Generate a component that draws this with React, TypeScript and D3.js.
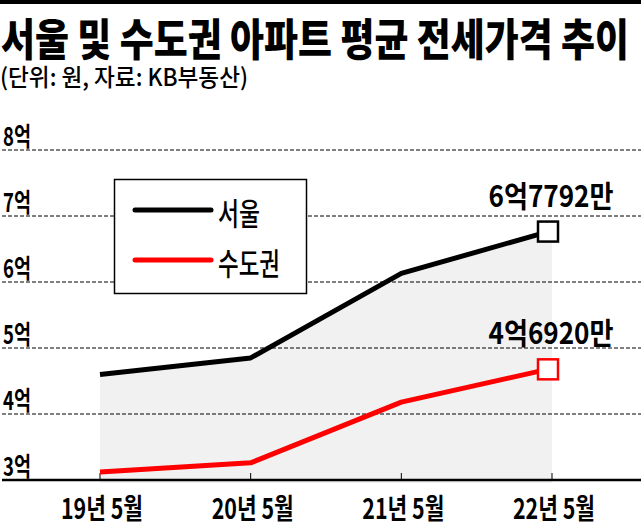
import React from 'react';
import * as d3 from 'd3';

const categories = ['19년 5월', '20년 5월', '21년 5월', '22년 5월'];
const seoul = [4.6, 4.85, 6.13, 6.7792];
const metro = [3.12, 3.26, 4.18, 4.692];
const yTicks = [3, 4, 5, 6, 7, 8];
const yTickLabels = ['3억', '4억', '5억', '6억', '7억', '8억'];
const seriesNames = ['서울', '수도권'];
const endLabels = ['6억7792만', '4억6920만'];
const title = '서울 및 수도권 아파트 평균 전세가격 추이';
const subtitle = '(단위: 원, 자료: KB부동산)';

const W = 641, H = 523;
const FONT = '"Noto Sans CJK KR", "Noto Sans", sans-serif';

export default function App() {
  const x = d3.scalePoint<string>().domain(categories).range([100, 552]);
  const y = d3.scaleLinear().domain([3, 8]).range([480, 150]);

  const line = d3.line<number>().x((_, i) => x(categories[i])!).y(d => y(d));
  const area = d3.area<number>().x((_, i) => x(categories[i])!).y0(483).y1(d => y(d));

  const colors = ['#000000', '#ff0000'];
  const data = [seoul, metro];
  const lastX = x(categories[categories.length - 1])!;

  return (
    <svg width={W} height={H} style={{ position: 'absolute', left: 0, top: 0, background: '#fff' }}>
      <rect x={0} y={0} width={W} height={4} fill="#000" />
      <text x={1} y={56} fontFamily={FONT} fontWeight={900} fontSize={44} textLength={628} lengthAdjust="spacingAndGlyphs">{title}</text>
      <text x={0} y={86} fontFamily={FONT} fontWeight={500} fontSize={24} textLength={248} lengthAdjust="spacingAndGlyphs">{subtitle}</text>

      <path d={area(seoul)!} fill="#f1f1f1" />

      {yTicks.map((t, i) => (
        <g key={t}>
          {i > 0 && <line x1={2} x2={W} y1={y(t)} y2={y(t)} stroke="#000" strokeWidth={1} strokeDasharray="4,2" />}
          <text x={3} y={y(t) - 4} fontFamily={FONT} fontWeight={700} fontSize={26} textLength={28} lengthAdjust="spacingAndGlyphs">{yTickLabels[i]}</text>
        </g>
      ))}

      <line x1={2} x2={W} y1={y(3)} y2={y(3)} stroke="#000" strokeWidth={2.5} />
      {categories.map(c => (
        <g key={c}>
          <line x1={x(c)} x2={x(c)} y1={y(3) - 7} y2={y(3)} stroke="#000" strokeWidth={1} />
          <text x={x(c)! + 2} y={519} textAnchor="middle" fontFamily={FONT} fontWeight={700} fontSize={28} textLength={82} lengthAdjust="spacingAndGlyphs">{c}</text>
        </g>
      ))}

      {data.map((d, i) => (
        <path key={i} d={line(d)!} fill="none" stroke={colors[i]} strokeWidth={5} strokeLinejoin="round" />
      ))}
      {data.map((d, i) => (
        <rect key={'m' + i} x={lastX - 4 - 10} y={y(d[d.length - 1]) - 9} width={20} height={20} fill="#fff" stroke={colors[i]} strokeWidth={2.5} />
      ))}
      {data.map((d, i) => (
        <text key={'l' + i} x={lastX - 1} y={y(d[d.length - 1]) - 24} textAnchor="middle" fontFamily={FONT} fontWeight={700} fontSize={30} textLength={125} lengthAdjust="spacingAndGlyphs">{endLabels[i]}</text>
      ))}

      <rect x={114.5} y={179.5} width={192} height={114} fill="#fff" stroke="#000" strokeWidth={1.5} />
      {seriesNames.map((s, i) => (
        <g key={s}>
          <line x1={135} x2={211} y1={210 + i * 50} y2={210 + i * 50} stroke={colors[i]} strokeWidth={5} strokeLinecap="round" />
          <text x={218} y={225 + i * 50} fontFamily={FONT} fontWeight={500} fontSize={31} textLength={s.length === 2 ? 42 : 62} lengthAdjust="spacingAndGlyphs">{s}</text>
        </g>
      ))}
    </svg>
  );
}
